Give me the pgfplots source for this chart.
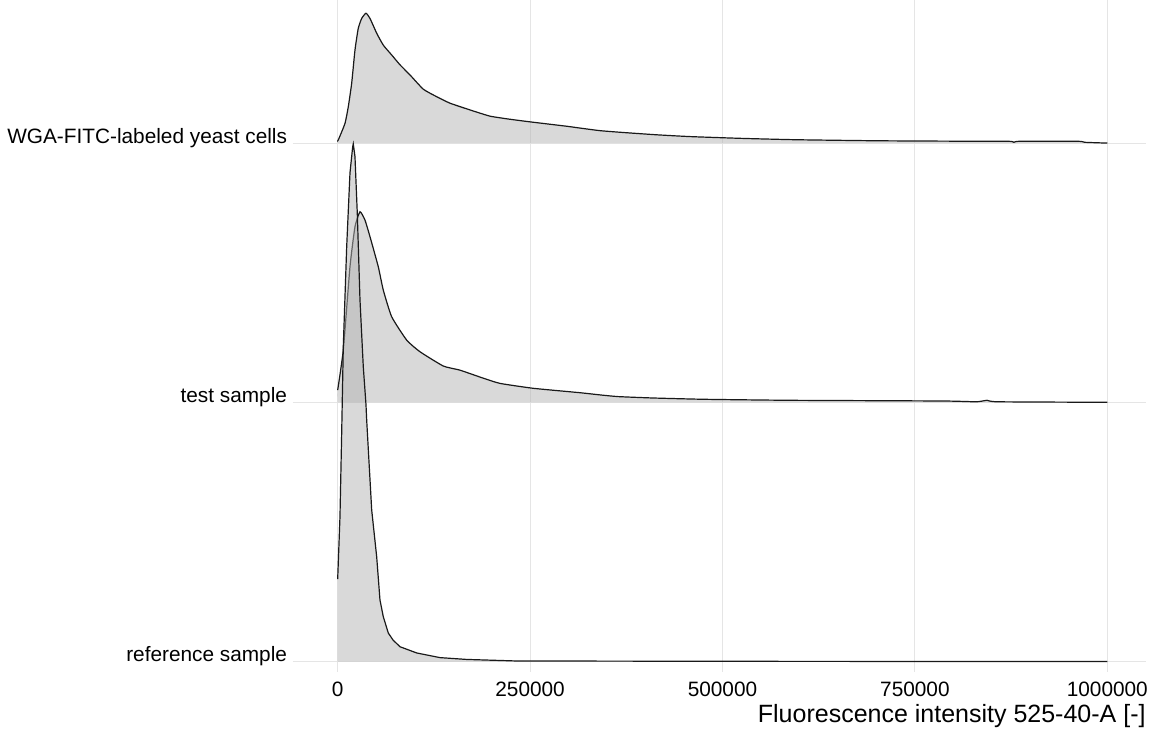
\documentclass[border=0pt]{standalone}
\usepackage{pgfplots}
\pgfplotsset{compat=1.18}
\usepackage{pgfplotstable}
\usepackage{fontspec}
\setmainfont{Liberation Sans}
\definecolor{gridc}{RGB}{229,229,229}
\definecolor{ridgefill}{RGB}{179,179,179}

\pgfplotstableread{
x h
0 0
0 0.010
780 0.012
9490 0.076
13770 0.140
18190 0.231
22480 0.359
26770 0.443
31190 0.481
36770 0.501
41970 0.481
50680 0.424
59250 0.378
70170 0.340
80950 0.302
93950 0.263
111230 0.208
128640 0.179
145920 0.154
171910 0.128
197900 0.104
223890 0.092
249870 0.082
297560 0.065
314840 0.058
340830 0.048
370590 0.041
414640 0.032
458690 0.025
527420 0.018
595520 0.013
699990 0.009
795600 0.0075
871770 0.007
878650 0.003
885670 0.007
962200 0.007
971000 0.003
1000000 0
}\wga

\pgfplotstableread{
x h
0 0
0 0.047
7280 0.202
15980 0.523
22480 0.677
28980 0.735
35470 0.703
41970 0.639
52760 0.523
59250 0.433
70170 0.330
89660 0.240
106940 0.195
137220 0.140
158920 0.124
189190 0.093
210900 0.073
254160 0.054
314840 0.037
342650 0.028
364480 0.022
409960 0.0166
476360 0.0116
588630 0.0077
786780 0.005
829920 0.002
843830 0.0077
857860 0.002
1000000 0
}\testsample

\pgfplotstableread{
x h
0 0
0 0.318
2990 0.559
5200 0.882
7280 1.214
11700 1.600
15980 1.885
19490 1.986
20270 1.997
22480 1.948
25470 1.730
28980 1.395
33270 1.137
36800 0.990
37680 0.932
44180 0.585
50680 0.404
54970 0.237
59250 0.173
65750 0.110
71860 0.083
80950 0.057
102650 0.033
132930 0.015
167620 0.008
232590 0.002
600000 0.0005
1000000 0
}\refsample

\begin{document}
\begin{tikzpicture}
\path[use as bounding box] (0pt,0pt) rectangle (1158pt,740pt);
\begin{axis}[
  at={(299.2pt,74.8pt)}, anchor=south west,
  scale only axis, width=846.6pt, height=665.2pt,
  xmin=-50000, xmax=1050000, ymin=0.98573, ymax=3.55208,
  axis line style={draw=none},
  grid=major,
  major grid style={gridc, line width=1pt},
  tick style={gridc, line width=1pt},
  tick align=outside,
  major tick length=6.5pt,
  xtick pos=lower, ytick pos=left,
  xtick={0,250000,500000,750000,1000000},
  xticklabels={0,250000,500000,750000,1000000},
  scaled x ticks=false,
  ytick={1,2,3},
  yticklabels={reference sample,test sample,WGA-FITC-labeled yeast cells},
  /pgf/number format/assume math mode=true,
  tick label style={font=\fontsize{20.8}{24}\selectfont, text=black},
  xticklabel style={anchor=base, inner sep=0pt, yshift=-25pt},
  yticklabel style={anchor=base east, inner sep=0pt, xshift=-5.5pt},
  xlabel={Fluorescence intensity 525-40-A [-]},
  xlabel style={at={(axis description cs:1,0)}, anchor=base east, yshift=-57.5pt, inner sep=0pt, font=\fontsize{25}{30}\selectfont},
]
\addplot[draw=none, fill=ridgefill, fill opacity=0.5, smooth, tension=0.3] table[x=x, y expr=\thisrow{h}+3] {\wga};
\addplot[black!90, line width=1.2pt, smooth, tension=0.3, skip coords between index={0}{1}] table[x=x, y expr=\thisrow{h}+3] {\wga};
\addplot[draw=none, fill=ridgefill, fill opacity=0.5, smooth, tension=0.3] table[x=x, y expr=\thisrow{h}+2] {\testsample};
\addplot[black!90, line width=1.2pt, smooth, tension=0.3, skip coords between index={0}{1}] table[x=x, y expr=\thisrow{h}+2] {\testsample};
\addplot[draw=none, fill=ridgefill, fill opacity=0.5] table[x=x, y expr=\thisrow{h}+1] {\refsample};
\addplot[black!90, line width=1.2pt, skip coords between index={0}{1}] table[x=x, y expr=\thisrow{h}+1] {\refsample};
\end{axis}
\end{tikzpicture}
\end{document}
